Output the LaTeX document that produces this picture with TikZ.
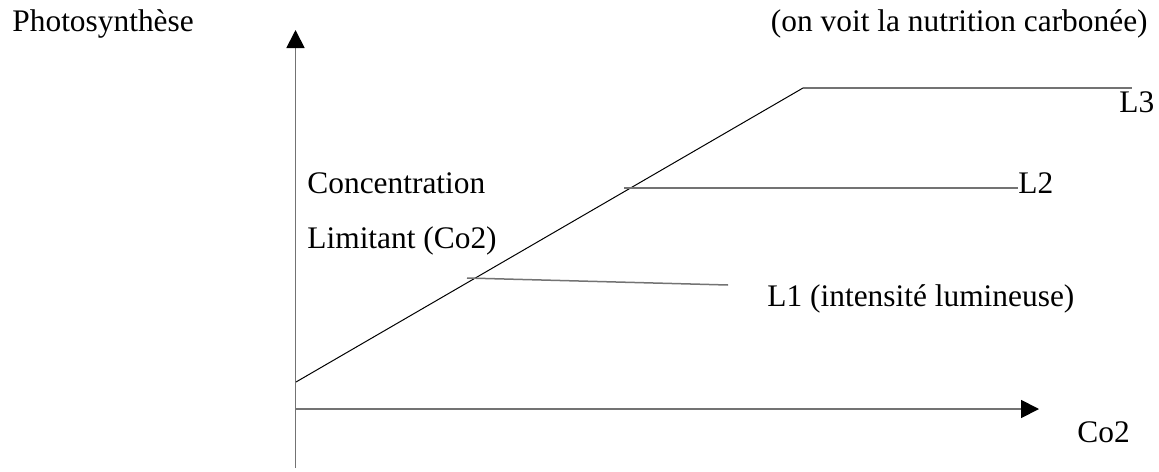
\documentclass[tikz,border=0pt]{standalone}
\usepackage{fontspec}
\setmainfont{Liberation Serif}
\usetikzlibrary{arrows.meta}
\begin{document}
\begin{tikzpicture}[x=0.5pt,y=-0.5pt,
  lbl/.style={anchor=base west,inner sep=0pt,font=\fontsize{15.7}{19}\selectfont},
  axisline/.style={draw=black!55,line width=0.9pt,-{Triangle[length=9pt,width=9pt,fill=black,color=black]}},
  curve/.style={draw=black,line width=0.5pt},
  level/.style={draw=black!55,line width=0.75pt}]
\useasboundingbox (0,0) rectangle (1159,471);
% labels
\node[lbl] (photo) at (12,31) {Photosynthèse};
\node[lbl,anchor=base east] (note) at (1148,31) {(on voit la nutrition carbonée)};
\node[lbl] (conc) at (307,193) {Concentration};
\node[lbl] (limit) at (307,248) {Limitant (Co2)};
\node[lbl] (l1) at (767,306) {L1 (intensité lumineuse)};
\node[lbl] (l2) at (1018,193) {L2};
\node[lbl] (l3) at (1119,112) {L3};
\node[lbl] (co2) at (1077,442) {Co2};
% axes
\coordinate (ybot) at (295.5,468);
\coordinate (ytop) at (295.5,30);
\coordinate (xl) at (295,409);
\coordinate (xr) at (1039,409);
\draw[axisline] (ybot) -- (ytop);
\draw[axisline] (xl) -- (xr);
% curve
\coordinate (c0) at (296,382);
\coordinate (c1) at (803,88);
\draw[curve] (c0) -- (c1);
% levels
\coordinate (l3e) at (1132,88);
\draw[level] (c1) -- (l3e);
\coordinate (l2s) at (624,188);
\coordinate (l2e) at (1018,188);
\draw[level] (l2s) -- (l2e);
\coordinate (l1s) at (467,278);
\coordinate (l1e) at (728,285);
\draw[level] (l1s) -- (l1e);
\end{tikzpicture}
\end{document}
